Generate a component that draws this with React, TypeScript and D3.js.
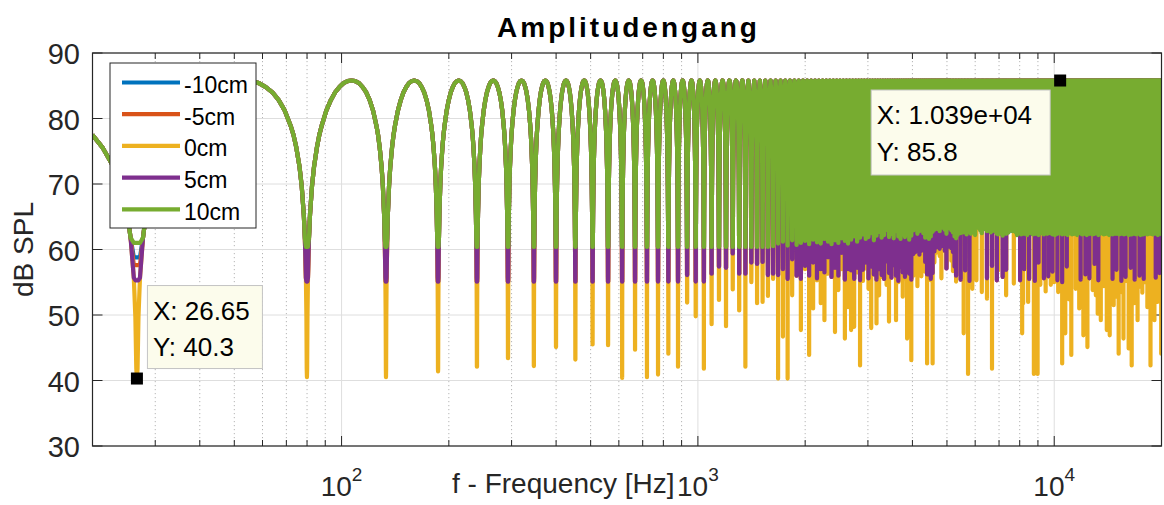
import React from 'react';
import * as d3 from 'd3';

// ---------------- data ----------------
const seriesNames = ['-10cm', '-5cm', '0cm', '5cm', '10cm'];

// comb-filter notch positions and peak level
const firstNotchHz = 26.65;
const notchSpacingHz = 53.3;
const peakDb = 85.8;

// shape of one lobe: phase (0 = notch, 0.5 = peak) and level below the peak in dB
const lobePhase = [0, 0.002, 0.005, 0.01, 0.02, 0.03, 0.05, 0.07, 0.1, 0.125, 0.15, 0.2, 0.25, 0.3, 0.35, 0.4, 0.45, 0.5];
const lobeDropDb = [-80, -44.0, -36.1, -30.1, -24.0, -20.5, -16.1, -13.2, -10.2, -8.3, -6.9, -4.6, -3.0, -1.8, -1.0, -0.4, -0.1, 0];

// lowest sampled level at each notch (one value per notch, 26.65 Hz ... 19960 Hz)
const yellowNotchDb = [
  40.3, 40.5, 40.5, 41.4, 42.1, 43.4, 42.2, 45.1, 43.2, 45.5,
  45.4, 40.4, 44.7, 40.5, 40.9, 44.1, 42.1, 51.9, 49.8, 41.8,
  48.6, 52.3, 48.3, 53.9, 50.7, 42.1, 55.0, 51.8, 52.0, 52.9,
  55.5, 40.3, 46.7, 40.3, 53.0, 58.5, 47.7, 57.0, 43.9, 51.0,
  55.3, 51.8, 49.2, 56.3, 58.0, 47.4, 53.8, 57.0, 46.4, 51.2,
  47.7, 48.2, 56.5, 42.3, 55.2, 57.1, 54.0, 48.0, 56.4, 48.7,
  53.0, 55.8, 57.5, 54.6, 49.0, 56.2, 57.8, 49.2, 55.0, 56.9,
  52.8, 55.6, 46.4, 57.3, 43.1, 56.0, 58.2, 54.4, 57.6, 55.9,
  58.4, 56.6, 42.6, 57.2, 55.3, 42.6, 58.0, 59.5, 60.2, 59.0,
  55.6, 60.5, 59.8, 57.4, 60.9, 60.1, 58.3, 56.7, 57.9, 55.1,
  64, 64, 64, 64, 47.2, 64, 64, 41.0, 64, 64,
  54.0, 64, 64, 55.3, 64, 64, 64, 53.5, 64, 64,
  64, 52.5, 64, 64, 64, 41.8, 64, 64, 64, 64,
  56.8, 64, 64, 64, 64, 64, 64, 53.0, 64, 64,
  64, 64, 64, 64, 54.8, 64, 64, 64, 64, 64,
  64, 64, 47.2, 51.8, 64, 64, 64, 64, 52.0, 64,
  64, 64, 64, 64, 41.0, 64, 64, 64, 41.0, 64,
  64, 54.6, 64, 64, 64, 64, 64, 53.6, 64, 64,
  64, 64, 64, 54.6, 64, 64, 64, 55.0, 64, 64,
  64, 64, 53.5, 64, 64, 64, 64, 42.6, 64, 64,
  64, 47.2, 64, 64, 64, 64, 52.4, 64, 64, 43.9,
  64, 64, 64, 64, 64, 54.0, 64, 64, 64, 64,
  51.0, 64, 64, 64, 64, 64, 46.9, 64, 64, 64,
  64, 64, 45.1, 64, 64, 64, 64, 64, 64, 64,
  53.8, 64, 64, 64, 64, 53.0, 64, 64, 50.2, 64,
  64, 64, 64, 49.2, 64, 64, 64, 64, 54.4, 64,
  64, 64, 64, 47.7, 64, 64, 64, 64, 46.9, 64,
  64, 64, 64, 64, 64, 51.5, 64, 64, 64, 64,
  52.8, 64, 64, 64, 44.1, 64, 64, 64, 64, 53.5,
  64, 64, 64, 46.4, 64, 64, 64, 64, 55.2, 64,
  64, 64, 64, 44.9, 64, 64, 64, 64, 64, 42.3,
  64, 64, 64, 64, 51.8, 64, 64, 64, 64, 64,
  64, 49.2, 64, 64, 64, 54.3, 64, 64, 64, 64,
  64, 53.4, 64, 64, 64, 64, 64, 55.0, 64, 64,
  64, 64, 51.2, 64, 64, 64, 64, 64, 64, 42.3,
  64, 64, 64, 64, 53.0, 64, 64, 64, 49.2, 64,
  64, 64, 64, 64, 64, 52.0, 64, 64, 64, 54.6,
  64, 64, 64, 64, 44.1,
];

const purpleNotchDb = [
  55.3, 55.1, 55.1, 55.1, 55.1, 55.1, 55.1, 55.1, 55.1, 55.1,
  55.1, 55.1, 55.1, 55.1, 55.1, 55.1, 55.1, 56.1, 55.1, 55.1,
  56.3, 57.4, 57.2, 59.4, 56.3, 56.3, 58.0, 57.8, 58.1, 56.1,
  56.3, 56.1, 57.0, 55.5, 58.5, 56.0, 55.5, 57.5, 56.0, 58.0,
  55.6, 57.0, 56.5, 58.8, 55.8, 57.2, 56.0, 59.5, 55.4, 57.0,
  56.8, 55.5, 57.2, 55.3, 56.9, 58.0, 55.6, 57.4, 56.2, 55.4,
  57.0, 56.1, 55.5, 58.2, 56.4, 55.7, 57.6, 56.0, 55.2, 57.3,
  56.5, 55.8, 57.9, 56.3, 55.4, 59.3, 59.6, 60.1, 59.2, 59.8,
  60.0, 58.1, 56.2, 57.0, 55.5, 56.4, 59.7, 60.3, 60.8, 60.1,
  60.5, 60.9, 59.8, 57.1, 60.4, 61.0, 60.2, 59.6, 57.4, 56.0,
  64, 64, 55.4, 64, 64, 56.8, 64, 64, 55.2, 64,
  64, 64, 64, 64, 64, 64, 64, 64, 64, 64,
  64, 55.6, 64, 64, 64, 57.5, 64, 64, 64, 55.3,
  64, 64, 64, 64, 55.8, 64, 64, 56.9, 64, 64,
  64, 64, 64, 64, 64, 64, 64, 64, 64, 64,
  55.3, 64, 64, 64, 57.0, 64, 64, 64, 64, 55.5,
  64, 64, 64, 64, 64, 55.2, 64, 64, 64, 58.0,
  64, 64, 64, 64, 64, 55.6, 64, 64, 64, 64,
  55.9, 64, 64, 64, 64, 56.6, 64, 64, 64, 64,
  64, 55.3, 64, 64, 64, 64, 64, 55.0, 64, 64,
  64, 64, 64, 57.4, 64, 64, 64, 64, 64, 64,
  64, 64, 64, 64, 64, 64, 64, 64, 64, 64,
  64, 64, 55.4, 64, 64, 64, 64, 64, 64, 56.2,
  64, 64, 64, 64, 64, 55.6, 64, 64, 64, 64,
  64, 64, 64, 57.8, 64, 64, 64, 64, 64, 55.3,
  64, 64, 64, 64, 64, 64, 64, 64, 64, 64,
  64, 64, 64, 64, 64, 64, 64, 64, 64, 64,
  64, 64, 64, 55.5, 64, 64, 64, 64, 64, 64,
  56.9, 64, 64, 64, 64, 64, 64, 64, 64, 55.2,
  64, 64, 64, 64, 64, 64, 64, 55.8, 64, 64,
  64, 64, 64, 64, 64, 64, 64, 57.2, 64, 64,
  64, 64, 64, 64, 64, 55.4, 64, 64, 64, 64,
  64, 64, 64, 64, 64, 56.0, 64, 64, 64, 64,
  64, 64, 64, 64, 55.5, 64, 64, 64, 64, 64,
  64, 64, 64, 64, 64, 64, 64, 64, 64, 64,
  64, 64, 64, 64, 64, 64, 64, 64, 64, 64,
  64, 55.7, 64, 64, 64, 64, 64, 64, 64, 64,
  56.4, 64, 64, 64, 64,
];

const greenNotchDb = [
  61.0, 60.4, 60.4, 60.4, 60.4, 60.4, 60.4, 60.4, 60.4, 60.4,
  60.4, 60.4, 60.4, 60.4, 60.4, 60.4, 60.4, 60.4, 60.4, 60.4,
  60.4, 60.4, 60.4, 60.4, 60.4, 60.4, 60.4, 60.4, 60.4, 60.4,
  60.5, 60.9, 61.2, 60.6, 61.4, 60.7, 61.0, 61.3, 60.8, 61.5,
  61.1, 60.9, 61.6, 61.2, 60.8, 61.4, 61.0, 61.7, 61.3, 60.9,
  61.5, 62.0, 61.2, 61.8, 62.3, 61.6, 61.9, 62.5, 61.4, 62.1,
  62.7, 61.8, 62.2, 63.0, 61.9, 62.4, 61.7, 62.8, 62.0, 61.6,
  62.3, 61.9, 62.6, 61.5, 62.1, 62.9, 63.2, 62.4, 62.8, 63.1,
  62.5, 61.8, 62.2, 61.6, 62.0, 62.7, 63.0, 63.4, 63.1, 62.8,
  63.3, 63.6, 63.0, 62.4, 63.2, 63.5, 62.9, 62.6, 62.0, 61.7,
  62.2, 62.8, 62.5, 63.1, 62.6, 62.9, 62.3, 63.4, 62.7, 62.4,
  63.0, 62.6, 62.2, 63.3, 63.6, 63.2, 62.9, 62.5, 63.5, 63.2,
  63.1, 62.8, 63.3, 63.0, 62.6, 62.8, 63.2, 63.3, 62.7, 62.4,
  62.3, 62.9, 62.5, 63.2, 62.1, 62.7, 63.4, 62.4, 63.0, 62.6,
  63.3, 62.9, 63.2, 62.8, 63.5, 63.0, 62.6, 62.2, 62.9, 62.5,
  63.1, 62.3, 62.8, 63.5, 62.4, 63.0, 62.6, 62.2, 63.3, 62.7,
  62.5, 63.2, 62.8, 62.3, 62.9, 63.4, 62.4, 63.0, 62.6, 62.2,
  63.1, 62.7, 62.5, 63.3, 62.8, 62.3, 63.0, 63.5, 62.6, 62.4,
  62.9, 63.2, 62.5, 62.8, 63.4, 62.3, 63.0, 62.6, 62.2, 63.1,
  62.7, 62.4, 63.3, 62.9, 62.5, 63.2, 62.8, 62.3, 63.0, 63.5,
  62.6, 62.4, 63.1, 62.7, 62.2, 63.3, 62.9, 62.5, 63.0, 62.6,
  62.3, 63.2, 62.8, 62.4, 63.1, 63.5, 62.6, 62.2, 62.9, 62.7,
  63.3, 62.5, 63.0, 62.6, 62.3, 63.2, 62.8, 62.4, 63.1, 63.5,
  62.6, 62.2, 62.9, 63.4, 62.7, 62.4, 63.0, 62.5, 63.3, 62.8,
  62.3, 63.1, 62.7, 62.4, 63.2, 62.9, 62.5, 63.4, 62.6, 62.2,
  62.9, 63.3, 62.4, 62.8, 63.0, 62.5, 63.2, 62.7, 62.3, 63.1,
  62.6, 62.4, 63.3, 62.9, 62.5, 63.0, 62.7, 62.2, 63.4, 62.8,
  62.4, 63.1, 62.6, 62.3, 63.2, 62.9, 62.5, 63.0, 62.7, 62.4,
  63.3, 62.8, 62.5, 63.1, 62.6, 62.3, 63.4, 62.9, 62.4, 63.0,
  62.7, 62.5, 63.2, 62.8, 62.3, 63.1, 62.6, 62.4, 63.3, 62.9,
  62.5, 63.0, 62.7, 62.2, 63.2, 62.8, 62.4, 63.1, 62.6, 62.3,
  63.4, 62.9, 62.5, 63.0, 62.7, 62.4, 63.3, 62.8, 62.3, 63.1,
  62.6, 62.4, 63.2, 62.9, 62.5, 63.0, 62.7, 62.2, 63.3, 62.8,
  62.4, 63.1, 62.6, 62.3, 63.2, 62.9, 62.5, 63.4, 62.7, 62.4,
  63.0, 62.6, 62.3, 63.3, 62.8, 62.5, 63.1, 62.7, 62.4, 63.2,
  62.9, 62.5, 63.0, 62.6, 62.3, 63.4, 62.8, 62.4, 63.1, 62.7,
  62.5, 63.3, 62.9, 62.4, 63.0, 62.6, 62.2, 63.2, 62.8, 62.5,
  63.1, 62.7, 62.4, 63.0, 62.6,
];

// -10cm and -5cm run underneath 10cm and 5cm; only their first notch shows
const blueNotchDb = [58.8, ...greenNotchDb.slice(1)];
const redNotchDb = [57.6, ...purpleNotchDb.slice(1)];

const yTickValues = [30, 40, 50, 60, 70, 80, 90];
const xMajorTickValues = [100, 1000, 10000];
const xMajorTickExponents = ['2', '3', '4'];
const xMinorTickValues = [30, 40, 50, 60, 70, 80, 90, 200, 300, 400, 500, 600, 700, 800, 900,
  2000, 3000, 4000, 5000, 6000, 7000, 8000, 9000];

const tipFreqs = [26.65, 10390];
const tipLevels = [40.3, 85.8];
const tipXTexts = ['X: 26.65', 'X: 1.039e+04'];
const tipYTexts = ['Y: 40.3', 'Y: 85.8'];

// ---------------- styling ----------------
const COLORS = ['#0072BD', '#D95319', '#EDB120', '#7E2F8E', '#77AC30'];
const FONT = '"Liberation Sans", Arial, Helvetica, sans-serif';
const AX = '#262626';
const LW = 4.2;

export default function App() {
  const left = 92.5, right = 1161.5, top = 53, bottom = 446;
  const x = d3.scaleLog().domain([20, 20000]).range([left, right]);
  const y = d3.scaleLinear().domain([30, 90]).range([bottom, top]);

  const allIdx = lobePhase.map((_, i) => i);
  const denseIdx = [0, 3, 8, 12, 17];

  const buildPoints = (bottoms: number[]) => {
    const pts: [number, number][] = [];
    for (let j = -1; j < bottoms.length; j++) {
      const fa = firstNotchHz + j * notchSpacingHz;
      const fb = fa + notchSpacingHz;
      const wide = fa <= 0 || x(fb) - x(fa) > 6;
      const idx = wide ? allIdx : denseIdx;
      const bA = j >= 0 ? bottoms[j] : -Infinity;
      const bB = j + 1 < bottoms.length ? bottoms[j + 1] : -Infinity;
      const seq: [number, number, number][] = [];
      idx.forEach((i) => seq.push([lobePhase[i], lobeDropDb[i], bA]));
      for (let m = idx.length - 2; m >= 1; m--) {
        const i = idx[m];
        seq.push([1 - lobePhase[i], lobeDropDb[i], bB]);
      }
      for (const [p, drop, b] of seq) {
        const f = fa + p * notchSpacingHz;
        if (f < 19) continue;
        pts.push([f, Math.max(peakDb + drop, b)]);
        if (f > 20000) return pts;
      }
    }
    return pts;
  };

  const line = d3.line<[number, number]>().x((d) => x(d[0])).y((d) => y(d[1]));
  const allBottoms = [blueNotchDb, redNotchDb, yellowNotchDb, purpleNotchDb, greenNotchDb];
  const paths = allBottoms.map((b) => line(buildPoints(b)) || '');

  const legendRows = seriesNames.map((n, i) => ({ n, i, cy: 82.5 + i * 31.7 }));

  return (
    <svg width={1164} height={505} style={{ position: 'absolute', left: 0, top: 0, background: '#fff' }}
      fontFamily={FONT}>
      <defs>
        <clipPath id="plotClip">
          <rect x={left} y={top} width={right - left} height={bottom - top} />
        </clipPath>
      </defs>
      <rect x={0} y={0} width={1164} height={505} fill="#fff" />
      {/* grid */}
      {xMinorTickValues.map((v) => (
        <line key={'mg' + v} x1={x(v)} x2={x(v)} y1={top} y2={bottom} stroke="#b5b5b5" strokeWidth={1}
          strokeDasharray="1.2 2.8" />
      ))}
      {xMajorTickValues.map((v) => (
        <line key={'g' + v} x1={x(v)} x2={x(v)} y1={top} y2={bottom} stroke="#dedede" strokeWidth={1} />
      ))}
      {yTickValues.map((v) => (
        <line key={'gy' + v} x1={left} x2={right} y1={y(v)} y2={y(v)} stroke="#dedede" strokeWidth={1} />
      ))}
      {/* ticks */}
      {xMajorTickValues.map((v) => (
        <g key={'t' + v} stroke={AX} strokeWidth={1}>
          <line x1={x(v)} x2={x(v)} y1={bottom} y2={bottom - 10} />
          <line x1={x(v)} x2={x(v)} y1={top} y2={top + 10} />
        </g>
      ))}
      {xMinorTickValues.map((v) => (
        <g key={'mt' + v} stroke={AX} strokeWidth={1}>
          <line x1={x(v)} x2={x(v)} y1={bottom} y2={bottom - 6} />
          <line x1={x(v)} x2={x(v)} y1={top} y2={top + 6} />
        </g>
      ))}
      {yTickValues.map((v) => (
        <g key={'yt' + v} stroke={AX} strokeWidth={1}>
          <line x1={left} x2={left + 10} y1={y(v)} y2={y(v)} />
          <line x1={right} x2={right - 10} y1={y(v)} y2={y(v)} />
        </g>
      ))}
      {/* data */}
      <g clipPath="url(#plotClip)">
        {paths.map((d, i) => (
          <path key={'s' + i} d={d} fill="none" stroke={COLORS[i]} strokeWidth={LW}
            strokeLinejoin="round" />
        ))}
      </g>
      {/* axes box */}
      <rect x={left} y={top} width={right - left} height={bottom - top} fill="none" stroke={AX} strokeWidth={1.2} />
      {/* tick labels */}
      {yTickValues.map((v) => (
        <text key={'yl' + v} x={80} y={y(v) + 11} textAnchor="end" fontSize={29} fill={AX}>{v}</text>
      ))}
      {xMajorTickValues.map((v, i) => (
        <text key={'xl' + v} x={x(v)} y={496} textAnchor="middle" fontSize={28} fill={AX}>
          10<tspan dy={-15} fontSize={19}>{xMajorTickExponents[i]}</tspan>
        </text>
      ))}
      {/* axis labels + title */}
      <text x={452} y={493} fontSize={28} fill={AX}>f - Frequency [Hz]</text>
      <text transform="translate(33,249.5) rotate(-90)" textAnchor="middle" fontSize={28} fill={AX}>dB SPL</text>
      <text x={(left + right) / 2 + 1.5} y={37} textAnchor="middle" fontSize={28} fontWeight="bold"
        letterSpacing={3} fill="#000">Amplitudengang</text>
      {/* legend */}
      <rect x={110} y={63} width={146} height={165} fill="#fff" stroke={AX} strokeWidth={1} />
      {legendRows.map((r) => (
        <g key={'lg' + r.i}>
          <line x1={122} x2={180} y1={r.cy} y2={r.cy} stroke={COLORS[r.i]} strokeWidth={LW} />
          <text x={184} y={r.cy + 10.5} fontSize={23} fill="#000">{r.n}</text>
        </g>
      ))}
      {/* data tips */}
      {tipFreqs.map((f, i) => {
        const mx = x(f), my = y(tipLevels[i]);
        const bw = i === 0 ? 115 : 179;
        const bh = i === 0 ? 83 : 85;
        const bx = i === 0 ? mx + 10.5 : mx - 10 - bw;
        const by = i === 0 ? my - 93 : my + 9.5;
        return (
          <g key={'tip' + i}>
            <rect x={bx} y={by} width={bw} height={bh} fill="#fcfcec" stroke="#c4c4c4" strokeWidth={1} />
            <text x={bx + 5.5} y={by + 34} fontSize={26} fill="#000">{tipXTexts[i]}</text>
            <text x={bx + 5.5} y={by + 70.5} fontSize={26} fill="#000">{tipYTexts[i]}</text>
            <rect x={mx - 6} y={my - 6} width={12} height={12} fill="#000" />
          </g>
        );
      })}
    </svg>
  );
}
